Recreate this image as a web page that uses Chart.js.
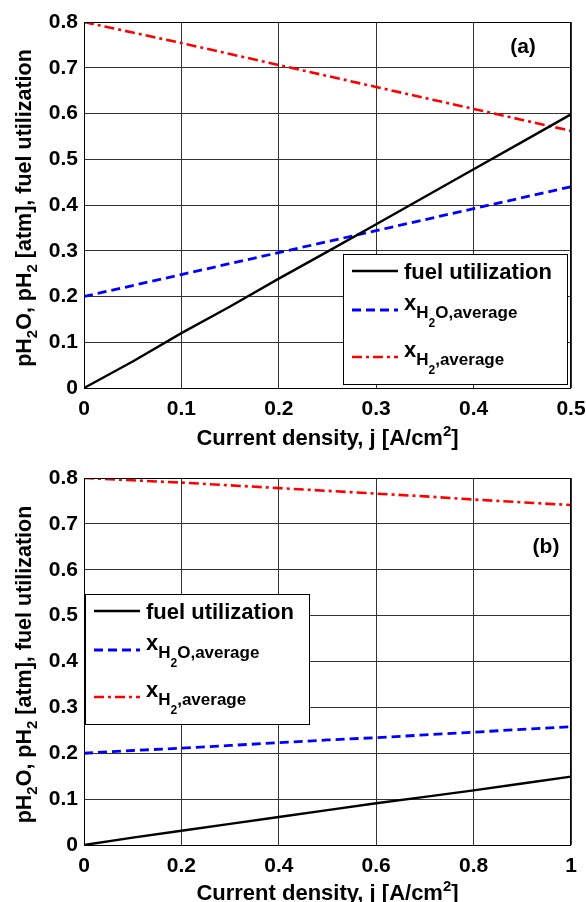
<!DOCTYPE html>
<html><head><meta charset="utf-8">
<script src="https://cdn.jsdelivr.net/npm/chart.js@4/dist/chart.umd.min.js"></script>
<style>html,body{margin:0;padding:0;background:#fff;width:586px;height:902px;overflow:hidden}canvas{display:block}</style>
</head><body>
<canvas id="ca" width="586" height="450"></canvas>
<canvas id="cb" width="586" height="452"></canvas>
<script>
// ---- data ----
const xA      = [0, 0.05, 0.1, 0.15, 0.2, 0.25, 0.3, 0.35, 0.4, 0.45, 0.5];
const fuelA   = [0, 0.058, 0.12, 0.178, 0.239, 0.298, 0.358, 0.418, 0.478, 0.538, 0.598];
const h2oA    = [0.2, 0.224, 0.248, 0.272, 0.296, 0.320, 0.344, 0.368, 0.392, 0.416, 0.44];
const h2A     = [0.8, 0.777, 0.754, 0.730, 0.706, 0.682, 0.658, 0.634, 0.610, 0.586, 0.562];
const xB      = [0, 0.1, 0.2, 0.3, 0.4, 0.5, 0.6, 0.7, 0.8, 0.9, 1.0];
const fuelB   = [0, 0.016, 0.031, 0.046, 0.061, 0.076, 0.091, 0.105, 0.119, 0.134, 0.149];
const h2oB    = [0.2, 0.206, 0.211, 0.217, 0.223, 0.229, 0.234, 0.240, 0.246, 0.252, 0.258];
const h2B     = [0.8, 0.795, 0.790, 0.784, 0.778, 0.772, 0.766, 0.760, 0.753, 0.747, 0.741];
const yTicks  = [0, 0.1, 0.2, 0.3, 0.4, 0.5, 0.6, 0.7, 0.8];
const xTicksA = [0, 0.1, 0.2, 0.3, 0.4, 0.5];
const xTicksB = [0, 0.2, 0.4, 0.6, 0.8, 1];
const seriesNames = ['fuel utilization', 'xH2O,average', 'xH2,average'];
// rich-text versions of the legend names (level 0 normal, 1 subscript, 2 sub-subscript)
const legendParts = [
  [{t:'fuel utilization', l:0}],
  [{t:'x', l:0}, {t:'H', l:1}, {t:'2', l:2}, {t:'O,average', l:1}],
  [{t:'x', l:0}, {t:'H', l:1}, {t:'2', l:2}, {t:',average', l:1}]
];
const yTitleParts = [{t:'pH',l:0},{t:'2',l:1},{t:'O, pH',l:0},{t:'2',l:1},{t:' [atm], fuel utilization',l:0}];
const xTitleParts = [{t:'Current density, j [A/cm',l:0},{t:'2',l:3},{t:']',l:0}];

const FF = '"Liberation Sans", Arial, Helvetica, sans-serif';
const LEG_SIZES = [22, 17, 12, 14];
const LEG_OFFS  = [0, 8, 17, -9];
const XT_SIZES  = [22, 17, 12, 15];
const YT_SIZES  = [21.5, 15, 12, 14];

function richWidth(ctx, parts, sizes) {
  let w = 0;
  for (const p of parts) { ctx.font = 'bold ' + sizes[p.l] + 'px ' + FF; w += ctx.measureText(p.t).width; }
  return w;
}
function drawRich(ctx, parts, x, y, sizes, offs) {
  let cx = x;
  for (const p of parts) {
    ctx.font = 'bold ' + sizes[p.l] + 'px ' + FF;
    ctx.fillText(p.t, cx, y + offs[p.l]);
    cx += ctx.measureText(p.t).width;
  }
}

const styles = [
  {color:'#000000', dash:[], width:2.4},
  {color:'#0000ff', dash:[9,5], width:2.8},
  {color:'#ff0000', dash:[10,4,3,4], width:2.6}
];

function makeDatasets(xs, series) {
  return series.map((ys, i) => ({
    label: seriesNames[i],
    data: xs.map((x, k) => ({x: x, y: ys[k]})),
    borderColor: styles[i].color,
    borderDash: styles[i].dash,
    borderWidth: styles[i].width,
    pointRadius: 0,
    tension: 0,
    fill: false
  }));
}

function decorPlugin(cfg) {
  return {
    id: 'decor',
    afterDatasetsDraw(chart) {
      const ctx = chart.ctx, a = chart.chartArea;
      ctx.save();
      // frame
      ctx.strokeStyle = '#000'; ctx.lineWidth = 1;
      ctx.strokeRect(Math.round(a.left) + 0.5, Math.round(a.top) + 0.5,
                     Math.round(a.right - a.left) - 1, Math.round(a.bottom - a.top));
      // legend
      const L = cfg.legend;
      const bx = Math.round(L.fromRight ? a.right - L.dx - 224 : a.left + L.dx);
      const by = Math.round(L.fromBottom ? a.bottom - L.dy - 130 : a.top + L.dy);
      ctx.fillStyle = '#fff';
      ctx.fillRect(bx, by, 224, 130);
      ctx.strokeStyle = '#000'; ctx.lineWidth = 1;
      ctx.strokeRect(bx + 0.5, by + 0.5, 224, 130);
      const rows = [17, 56, 103];
      chart.data.datasets.forEach((ds, i) => {
        const ly = by + rows[i];
        ctx.beginPath();
        ctx.strokeStyle = ds.borderColor; ctx.lineWidth = ds.borderWidth;
        ctx.setLineDash(ds.borderDash);
        ctx.moveTo(bx + 9, ly); ctx.lineTo(bx + 55, ly); ctx.stroke();
        ctx.setLineDash([]);
        ctx.fillStyle = '#000'; ctx.textBaseline = 'alphabetic'; ctx.textAlign = 'left';
        drawRich(ctx, legendParts[i], bx + 61, ly + (i === 0 ? 8 : 0), LEG_SIZES, LEG_OFFS);
      });
      // panel label
      ctx.fillStyle = '#000';
      ctx.font = 'bold 21px ' + FF; ctx.textAlign = 'center';
      ctx.fillText(cfg.panel, cfg.panelX, cfg.panelY);
      ctx.textAlign = 'left';
      // x title
      const xw = richWidth(ctx, xTitleParts, XT_SIZES);
      drawRich(ctx, xTitleParts, (a.left + a.right) / 2 - xw / 2, a.bottom + cfg.xTitleDy, XT_SIZES, [0, 8, 17, -9]);
      // y title (rotated)
      ctx.save();
      ctx.translate(31, (a.top + a.bottom) / 2 + 3);
      ctx.rotate(-Math.PI / 2);
      const yw = richWidth(ctx, yTitleParts, YT_SIZES);
      drawRich(ctx, yTitleParts, -yw / 2, 0, YT_SIZES, [0, 6, 17, -9]);
      ctx.restore();
      ctx.restore();
    }
  };
}

function makeChart(id, xs, series, xmax, xTicks, cfg) {
  return new Chart(document.getElementById(id), {
    type: 'line',
    data: { datasets: makeDatasets(xs, series) },
    options: {
      responsive: false, animation: false, devicePixelRatio: 1,
      layout: { padding: { left: 0, right: 15, top: cfg.top, bottom: 0 } },
      plugins: { legend: { display: false }, tooltip: { enabled: false } },
      scales: {
        x: {
          type: 'linear', min: 0, max: xmax,
          afterBuildTicks: s => { s.ticks = xTicks.map(v => ({value: v})); },
          afterFit: s => { s.height = cfg.xh; s.paddingRight = 0; s.paddingLeft = 0; },
          grid: { color: '#333', lineWidth: 1, drawTicks: false },
          border: { display: false },
          ticks: { color: '#000', padding: 9, maxRotation: 0, autoSkip: false,
                   font: { family: FF, size: 21, weight: 'bold' },
                   callback: v => String(+v.toFixed(1)) }
        },
        y: {
          min: 0, max: 0.8,
          afterBuildTicks: s => { s.ticks = yTicks.map(v => ({value: v})); },
          afterFit: s => { s.width = 84; s.paddingTop = 0; s.paddingBottom = 0; },
          grid: { color: '#333', lineWidth: 1, drawTicks: false },
          border: { display: false },
          ticks: { color: '#000', padding: 6, autoSkip: false,
                   font: { family: FF, size: 21, weight: 'bold' },
                   callback: v => String(+v.toFixed(1)) }
        }
      }
    },
    plugins: [decorPlugin(cfg)]
  });
}

makeChart('ca', xA, [fuelA, h2oA, h2A], 0.5, xTicksA,
  { top: 22, xh: 62, panel: '(a)', panelX: 523, panelY: 53, xTitleDy: 57,
    legend: { fromRight: true, dx: 4, fromBottom: true, dy: 4 } });
makeChart('cb', xB, [fuelB, h2oB, h2B], 1, xTicksB,
  { top: 28, xh: 57, panel: '(b)', panelX: 546, panelY: 103, xTitleDy: 55,
    legend: { fromRight: false, dx: 1, fromBottom: false, dy: 116 } });
</script>
</body></html>
